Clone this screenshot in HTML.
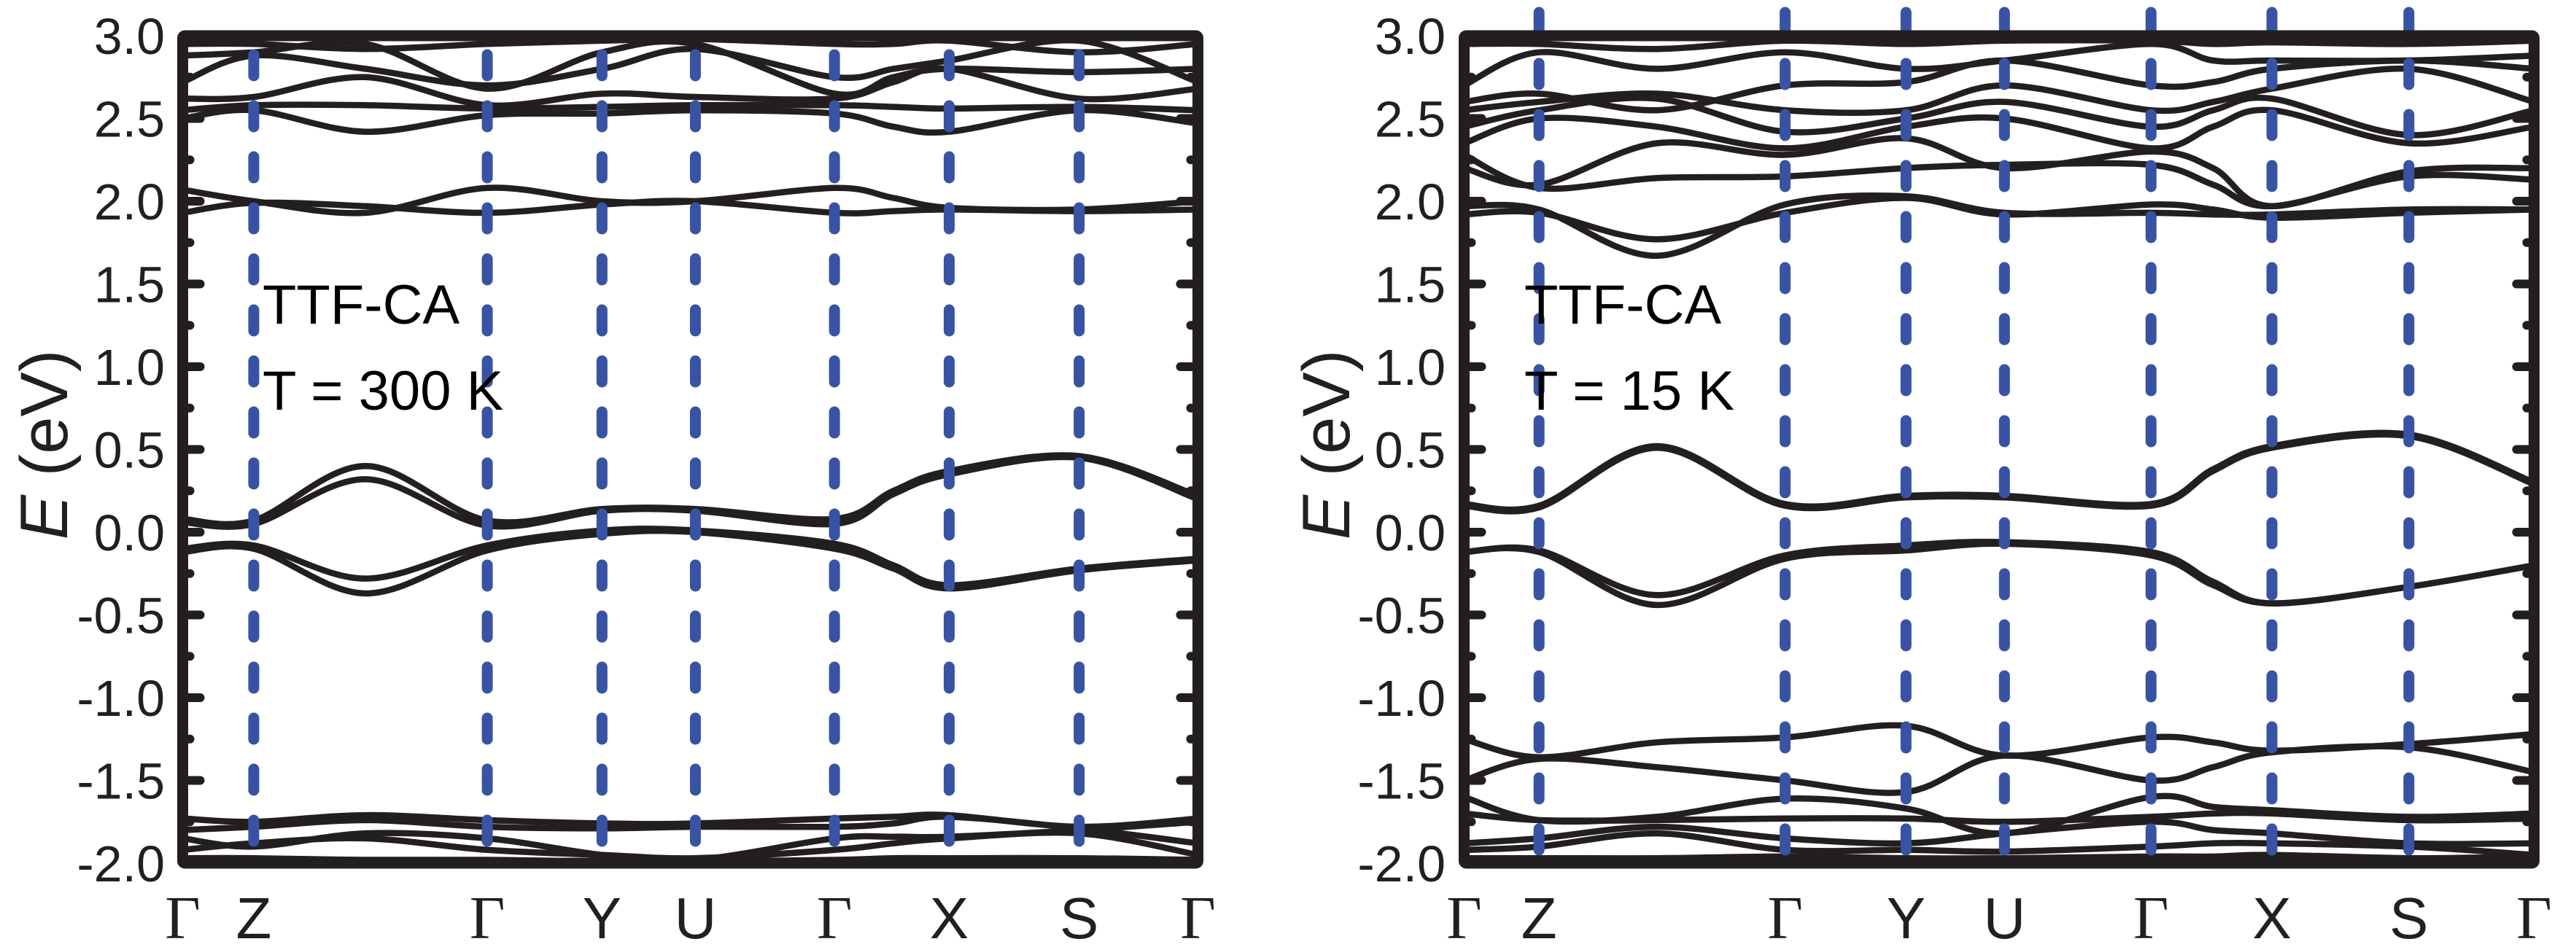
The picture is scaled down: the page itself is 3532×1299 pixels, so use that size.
<!DOCTYPE html>
<html><head><meta charset="utf-8"><style>
html,body{margin:0;padding:0;background:#fff;}
svg{display:block;}
</style></head><body>
<svg id="fig" width="3532" height="1299" viewBox="0 0 3532 1299" xmlns="http://www.w3.org/2000/svg">
<defs>
<clipPath id="clipL"><rect x="250" y="49" width="1393" height="1135"/></clipPath>
<clipPath id="clipR"><rect x="2008" y="49" width="1467" height="1135"/></clipPath>
</defs>
</svg>
<script>
// path node positions (fraction of path) for sample points
const kSamples = [0, 0.07, 0.18, 0.30, 0.413, 0.505, 0.642, 0.70, 0.755, 0.883, 1];
const kLabels = ["Γ","Z","Γ","Y","U","Γ","X","S","Γ"];
const kLabelPos = [0, 0.07, 0.30, 0.413, 0.505, 0.642, 0.755, 0.883, 1];
const dashPos = [0.07, 0.30, 0.413, 0.505, 0.642, 0.755, 0.883];
const yTicks = [3.0,2.5,2.0,1.5,1.0,0.5,0.0,-0.5,-1.0,-1.5,-2.0];
const yTickLabels = ["3.0","2.5","2.0","1.5","1.0","0.5","0.0","-0.5","-1.0","-1.5","-2.0"];

// T = 300 K bands (eV at kSamples)
const bands300 = [
 [0.08,0.07,0.40,0.07,0.14,0.14,0.08,0.25,0.37,0.46,0.22],
 [0.06,0.05,0.32,0.04,0.13,0.13,0.05,0.23,0.35,0.45,0.20],
 [-0.10,-0.08,-0.28,-0.08,0.01,0.01,-0.07,-0.20,-0.32,-0.22,-0.16],
 [-0.12,-0.10,-0.37,-0.11,-0.01,0.00,-0.10,-0.22,-0.34,-0.23,-0.17],
 [2.07,2.00,1.93,2.08,2.00,2.00,2.08,2.02,1.96,1.95,2.00],
 [1.93,1.99,1.97,1.93,1.98,2.00,1.93,1.94,1.95,1.94,1.95],
 [2.50,2.55,2.42,2.52,2.53,2.55,2.53,2.45,2.42,2.55,2.47],
 [2.55,2.58,2.58,2.56,2.57,2.58,2.58,2.57,2.56,2.57,2.55],
 [2.62,2.63,2.75,2.58,2.65,2.63,2.62,2.72,2.80,2.62,2.68],
 [2.72,2.88,2.80,2.70,2.80,2.92,2.75,2.80,2.85,2.97,2.72],
 [2.88,2.90,2.95,2.68,2.90,2.95,2.65,2.75,2.80,2.78,2.80],
 [2.95,2.95,2.92,2.95,2.97,2.98,2.95,2.95,2.97,2.90,2.95],
 [-1.73,-1.75,-1.71,-1.74,-1.76,-1.76,-1.73,-1.72,-1.71,-1.78,-1.73],
 [-1.80,-1.78,-1.74,-1.78,-1.79,-1.78,-1.78,-1.76,-1.72,-1.79,-1.88],
 [-1.85,-1.90,-1.82,-1.85,-1.95,-1.98,-1.85,-1.84,-1.84,-1.80,-1.75],
 [-1.92,-1.88,-1.85,-1.92,-1.95,-1.97,-1.92,-1.88,-1.85,-1.82,-1.95],
 [-1.97,-1.97,-1.98,-1.98,-1.99,-1.99,-1.98,-1.97,-1.97,-1.97,-1.98]
];
// T = 15 K bands
const bands15 = [
 [0.17,0.16,0.52,0.17,0.22,0.22,0.17,0.38,0.52,0.59,0.30],
 [0.16,0.15,0.51,0.16,0.21,0.21,0.16,0.37,0.51,0.58,0.29],
 [-0.12,-0.11,-0.38,-0.14,-0.08,-0.06,-0.12,-0.30,-0.43,-0.33,-0.20],
 [-0.12,-0.12,-0.44,-0.16,-0.11,-0.07,-0.14,-0.32,-0.43,-0.33,-0.20],
 [-1.25,-1.36,-1.27,-1.24,-1.17,-1.35,-1.24,-1.27,-1.32,-1.28,-1.22],
 [-1.50,-1.37,-1.42,-1.50,-1.57,-1.35,-1.50,-1.42,-1.33,-1.30,-1.45],
 [-1.60,-1.74,-1.72,-1.61,-1.67,-1.82,-1.60,-1.66,-1.68,-1.72,-1.70],
 [-1.70,-1.74,-1.74,-1.73,-1.73,-1.75,-1.72,-1.70,-1.70,-1.74,-1.73],
 [-1.88,-1.85,-1.78,-1.85,-1.88,-1.82,-1.75,-1.80,-1.82,-1.88,-1.88],
 [-1.92,-1.90,-1.82,-1.92,-1.92,-1.93,-1.90,-1.88,-1.88,-1.90,-1.95],
 [-1.97,-1.97,-1.97,-1.96,-1.97,-1.97,-1.96,-1.96,-1.95,-1.97,-1.96],
 [1.92,1.93,1.77,1.93,2.02,1.92,1.98,1.95,1.90,1.93,1.95],
 [1.97,1.95,1.67,1.98,2.03,1.93,1.93,1.92,1.92,1.95,1.95],
 [2.28,2.08,2.14,2.15,2.20,2.22,2.22,2.10,1.97,2.15,2.13],
 [2.20,2.10,2.35,2.28,2.38,2.20,2.30,2.20,1.97,2.18,2.20],
 [2.35,2.50,2.45,2.32,2.45,2.50,2.32,2.45,2.55,2.35,2.45],
 [2.45,2.55,2.62,2.42,2.50,2.60,2.45,2.55,2.62,2.40,2.55],
 [2.55,2.60,2.65,2.55,2.55,2.70,2.55,2.60,2.68,2.80,2.60],
 [2.60,2.65,2.55,2.70,2.72,2.85,2.70,2.72,2.80,2.85,2.80],
 [2.70,2.90,2.80,2.90,2.80,2.85,2.95,2.85,2.85,2.85,2.88],
 [2.95,2.95,2.92,2.97,2.95,2.97,2.97,2.95,2.96,2.95,2.97]
];

const NS = "http://www.w3.org/2000/svg";
const svg = document.getElementById("fig");
const yTop = 49, yBot = 1184, eMax = 3, eMin = -2;
function yScale(e){ return yTop + (eMax - e) / (eMax - eMin) * (yBot - yTop); }
function mk(tag, attrs, parent){
  const el = document.createElementNS(NS, tag);
  for (const k in attrs) el.setAttribute(k, attrs[k]);
  parent.appendChild(el);
  return el;
}
function smoothPath(pts){
  let d = "M" + pts[0][0].toFixed(1) + "," + pts[0][1].toFixed(1);
  for (let i = 0; i < pts.length - 1; i++){
    const p0 = pts[Math.max(0,i-1)], p1 = pts[i], p2 = pts[i+1], p3 = pts[Math.min(pts.length-1,i+2)];
    const c1x = p1[0] + (p2[0]-p0[0])/6, c1y = p1[1] + (p2[1]-p0[1])/6;
    const c2x = p2[0] - (p3[0]-p1[0])/6, c2y = p2[1] - (p3[1]-p1[1])/6;
    d += " C" + c1x.toFixed(1)+","+c1y.toFixed(1)+" "+c2x.toFixed(1)+","+c2y.toFixed(1)+" "+p2[0].toFixed(1)+","+p2[1].toFixed(1);
  }
  return d;
}

function panel(name, x0, x1, bands, clipId, labelRight, titleX, textX, tempText, dashStart){
  const g = mk("g", {}, svg);
  
  
  const xScale = k => x0 + k * (x1 - x0);
  const bg = mk("g", {"clip-path": "url(#" + clipId + ")"}, g);
  
  
  bands.forEach((b, i) => {
    const pts = b.map((e, j) => [xScale(kSamples[j]), yScale(e)]);
    const p = mk("path", {d: smoothPath(pts), fill: "none", stroke: "#231f20", "stroke-width": 8.5, "stroke-linejoin": "round"}, bg);
    
    
  });
  for (let e = -2; e <= 3.001; e += 0.25){
    const major = Math.abs(e*2 - Math.round(e*2)) < 1e-6;
    const len = major ? 24 : 10;
    const y = yScale(e);
    [[x0, x0 + len], [x1, x1 - len]].forEach(([a, b]) => {
      const t = mk("line", {x1: a, y1: y, x2: b, y2: y, stroke: "#231f20", "stroke-width": 12, "stroke-linecap": "round"}, g);
      
      
    });
  }
  dashPos.forEach(k => {
    const x = xScale(k);
    const l = mk("line", {x1: x, y1: dashStart, x2: x, y2: 1180, stroke: "#3953a4", "stroke-width": 15, "stroke-dasharray": "29 41", "stroke-linecap": "round"}, g);
    
    
  });
  const fr = mk("rect", {x: x0, y: yTop, width: x1 - x0, height: yBot - yTop, fill: "none", stroke: "#231f20", "stroke-width": 15, rx: 3}, g);
  
  
  yTicks.forEach((v, i) => {
    const t = mk("text", {x: labelRight, y: yScale(v) + 25, "text-anchor": "end", "font-family": "Liberation Sans, Arial, sans-serif", "font-size": 70, fill: "#231f20"}, g);
    t.textContent = yTickLabels[i];
    
    
  });
  kLabels.forEach((lab, i) => {
    const isG = lab === "Γ";
    const t = mk("text", {x: xScale(kLabelPos[i]), y: 1287, "text-anchor": "middle", "font-family": isG ? "Liberation Serif, serif" : "Liberation Sans, sans-serif", "font-size": isG ? 84 : 80, fill: "#231f20"}, g);
    t.textContent = lab;
    
    
  });
  const yt = mk("text", {x: 0, y: 0, transform: "translate(" + titleX + ",610) rotate(-90)", "text-anchor": "middle", "font-family": "Liberation Sans, sans-serif", "font-size": 92, fill: "#231f20"}, g);
  yt.innerHTML = '<tspan font-style="italic">E</tspan> (eV)';
  
  
  const a1 = mk("text", {x: textX, y: 444, "font-family": "Liberation Sans, sans-serif", "font-size": 76, fill: "#000"}, g);
  a1.textContent = "TTF-CA";
  
  
  const a2 = mk("text", {x: textX, y: 562, "font-family": "Liberation Sans, sans-serif", "font-size": 76, fill: "#000"}, g);
  a2.textContent = tempText;
  
  
}

panel("panel-300k", 250.5, 1642.5, bands300, "clipL", 226, 92, 360, "T = 300 K", 75);
panel("panel-15k", 2007.5, 3474.5, bands15, "clipR", 1982, 1850, 2090, "T = 15 K", 17);
</script>
</body></html>
